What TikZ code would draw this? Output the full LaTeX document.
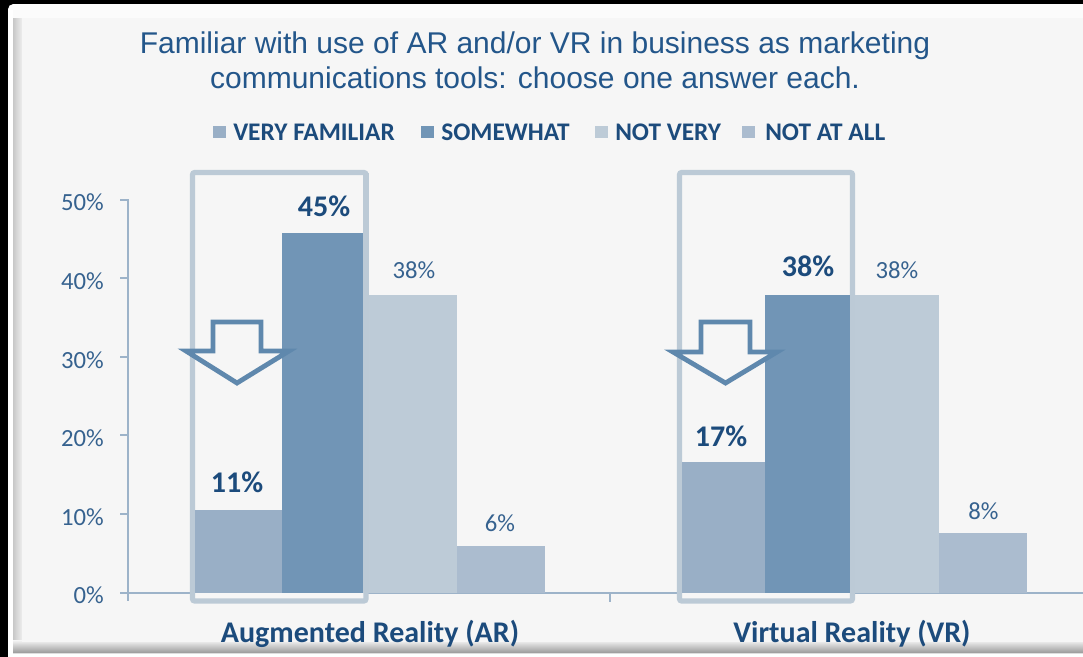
\documentclass[tikz,border=0pt]{standalone}
\usepackage{fontspec}
\setmainfont{Carlito}
\newfontfamily\titlefont{Liberation Sans}
\definecolor{panel}{HTML}{F6F6F6}
\definecolor{bevel}{HTML}{C8C8C8}
\definecolor{cVF}{HTML}{99AFC6}
\definecolor{cSW}{HTML}{7195B6}
\definecolor{cNV}{HTML}{BDCBD7}
\definecolor{cNA}{HTML}{ABBCCF}
\definecolor{axisc}{HTML}{9DB3C9}
\definecolor{titlec}{HTML}{23568A}
\definecolor{darkc}{HTML}{1C4B7C}
\definecolor{labc}{HTML}{36628F}
\definecolor{arrowc}{HTML}{5F88AD}
\definecolor{hlbox}{HTML}{BCCAD6}
\tikzset{
  axisline/.style={draw=axisc, line width=1.5pt},
  ticklab/.style={font=\fontsize{18.5}{20}\selectfont, text=labc, anchor=east, inner sep=0pt},
  vallab/.style={font=\fontsize{18.5}{20}\selectfont, text=labc, inner sep=0pt},
  boldlab/.style={font=\bfseries\fontsize{22.5}{24}\selectfont, text=darkc, inner sep=0pt},
  catlab/.style={font=\bfseries\fontsize{22.5}{24}\selectfont, text=darkc, inner sep=0pt},
  legtext/.style={font=\bfseries\fontsize{19}{20}\selectfont, text=darkc, anchor=west, inner sep=0pt},
  legkey/.style={minimum width=9.5pt, minimum height=9.5pt, inner sep=0pt, anchor=west},
  hlframe/.style={draw=hlbox, line width=3.8pt, rounded corners=1.5pt, fill=panel},
  downarrow/.style={draw=arrowc, line width=3.6pt, fill=panel, miter limit=10},
}
\begin{document}
\begin{tikzpicture}[x=0.75pt,y=-0.75pt]
\useasboundingbox (0,0) rectangle (1083,657);
% outer black surround and bevelled panel
\fill[black] (0,0) rectangle (1083,657);
\fill[white, rounded corners=4pt] (8,4) rectangle (1100,670);
\fill[bevel!60] (13,10) rectangle (1100,654);
\shade[left color=bevel, right color=panel] (13,10) rectangle (24,650);
\shade[top color=panel, bottom color=bevel!80!black] (13,640) rectangle (1100,652);
\fill[panel] (22,12) rectangle (1100,642);
\fill[white!60!panel] (13,10) rectangle (1100,18);

% title
\node[font=\titlefont\fontsize{22.5}{26.3}\selectfont, text=titlec, align=center, inner sep=0pt]
  (title) at (535,60) {Familiar with use of AR and/or VR in business as marketing\\communications tools: choose one answer each.};

% legend
\node[legkey, fill=cVF] (kVF) at (213,132) {};
\node[legtext] (tVF) at (233,132) {VERY FAMILIAR};
\node[legkey, fill=cSW] (kSW) at (421,132) {};
\node[legtext] (tSW) at (441,132) {SOMEWHAT};
\node[legkey, fill=cNV] (kNV) at (595,132) {};
\node[legtext] (tNV) at (615,132) {NOT VERY};
\node[legkey, fill=cNA] (kNA) at (742,132) {};
\node[legtext] (tNA) at (765,132) {NOT AT ALL};

% axes
\draw[axisline] (128,199) -- (128,601);
\draw[axisline] (120,592.5) -- (1083,592.5);
\draw[axisline] (610,592.5) -- (610,602);
\foreach \v/\y in {0/592.5,10/513.9,20/435.3,30/356.7,40/278.1,50/199.5}{
  \draw[axisline] (120,\y) -- (128,\y);
  \node[ticklab] (tick\v) at (104,\y+3) {\v\%};
}

% highlight frames
\draw[hlframe] (192.5,172.5) rectangle (366,601);
\draw[hlframe] (679.5,172.5) rectangle (852.5,601);

% bars: Augmented Reality
\fill[cVF] (195,592.5) rectangle (282,510);
\fill[cSW] (282,592.5) rectangle (364,233);
\fill[cNV] (364,592.5) rectangle (457,295);
\fill[cNA] (457,592.5) rectangle (545,546);
% bars: Virtual Reality
\fill[cVF] (682,592.5) rectangle (765,462);
\fill[cSW] (765,592.5) rectangle (850,295);
\fill[cNV] (850,592.5) rectangle (938.5,295);
\fill[cNA] (938.5,592.5) rectangle (1027,533);

% frame edges over the adjoining bars
\draw[draw=hlbox, line width=3.8pt] (366,172.5) -- (366,592.5);
\draw[draw=hlbox, line width=3.8pt] (852.5,172.5) -- (852.5,592.5);

% down arrows
\draw[downarrow] (213,322) -- (261,322) -- (261,351) -- (289,351) -- (237,383) -- (186,351) -- (213,351) -- cycle;
\draw[downarrow] (701,322) -- (750,322) -- (750,352) -- (777,352) -- (725.5,383) -- (673,352) -- (701,352) -- cycle;

% value labels
\node[boldlab] (vAR1) at (237,482) {11\%};
\node[boldlab] (vAR2) at (324,206) {45\%};
\node[vallab]  (vAR3) at (414,270) {38\%};
\node[vallab]  (vAR4) at (500,523) {6\%};
\node[boldlab] (vVR1) at (721,436) {17\%};
\node[boldlab] (vVR2) at (808,266) {38\%};
\node[vallab]  (vVR3) at (897,270) {38\%};
\node[vallab]  (vVR4) at (983.5,511) {8\%};

% category labels
\node[catlab] (catAR) at (370,634) {Augmented Reality (AR)};
\node[catlab] (catVR) at (852,634) {Virtual Reality (VR)};
\end{tikzpicture}
\end{document}
